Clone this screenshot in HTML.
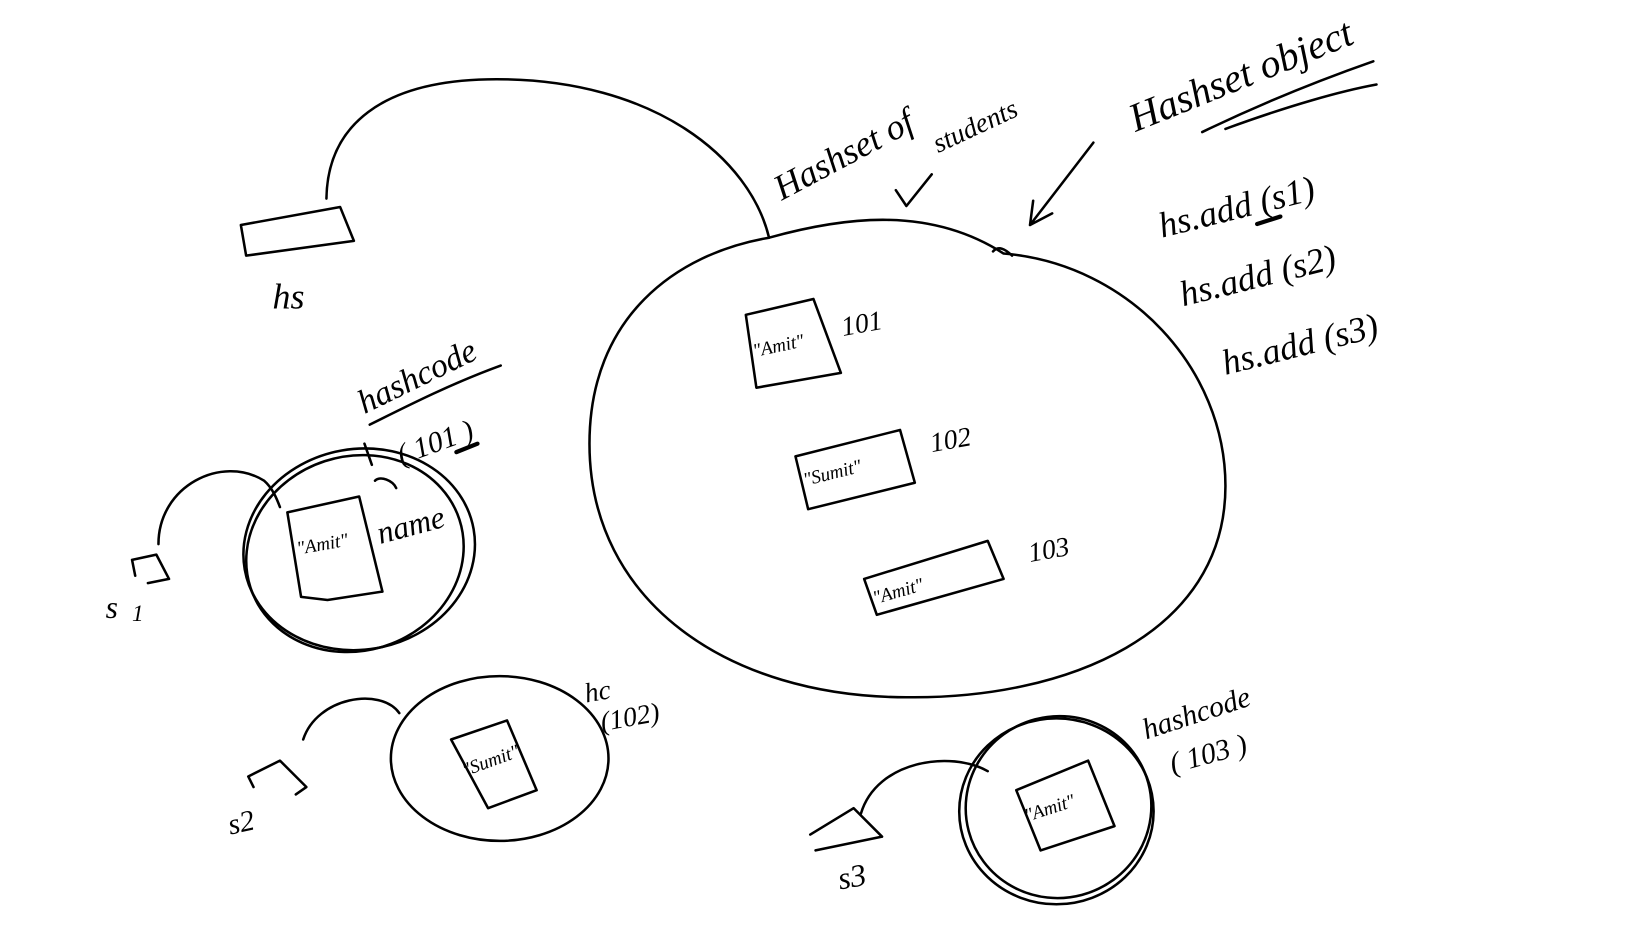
<!DOCTYPE html>
<html><head><meta charset="utf-8"><style>
html,body{margin:0;padding:0;background:#fff;width:1648px;height:927px;overflow:hidden}
svg text{font-family:"Liberation Serif",serif;font-style:italic;fill:#000}
</style></head><body>
<svg width="1648" height="927" viewBox="0 0 1560 877.5" xmlns="http://www.w3.org/2000/svg">
<g fill="none" stroke="#000" stroke-width="2.4" stroke-linecap="round" stroke-linejoin="round">
<path d="M228,213 L322,196 L335,228 L233,242 Z"/>
<path d="M309,188 C310,120 360,75 470,75 C620,75 710,150 728,225"/>
<path d="M728,225 C800,205 880,195 950,240 C1070,250 1160,350 1160,460 C1160,600 1010,662 858,660 C690,660 558,570 558,420 C558,300 640,240 728,225"/>
<path d="M940,238 C945,232 952,236 958,242"/>
<path d="M882,165 L858,195 L848,180"/>
<path d="M1035,135 L975,213 M975,213 L978,190 M975,213 L996,202"/>
<path d="M1138,125 C1200,95 1260,72 1300,58"/>
<path d="M1160,122 C1220,100 1270,86 1303,80"/>
<path d="M1190,212 L1212,205" stroke-width="4"/>
<path d="M706,298 L770,283 L796,353 L716,367 Z"/>
<path d="M753,432 L852,407 L866,457 L765,482 Z"/>
<path d="M818,548 L935,512 L950,548 L830,582 Z"/>
<ellipse cx="340" cy="520" rx="110" ry="95" transform="rotate(-10 340 520)"/>
<ellipse cx="336" cy="524" rx="104" ry="92" transform="rotate(-18 336 524)"/>
<path d="M272,485 L340,470 L362,560 L310,568 L285,565 Z"/>
<path d="M125,530 L148,525 L160,548 L140,552 M125,530 L128,545"/>
<path d="M150,515 C150,460 210,430 250,455 C258,462 262,472 265,480"/>
<path d="M345,420 L352,440 M355,455 C360,450 372,455 375,462"/>
<path d="M350,402 C390,382 430,362 474,346"/>
<path d="M432,428 L452,420" stroke-width="4"/>
<ellipse cx="473" cy="718" rx="103" ry="78"/>
<path d="M427,700 L480,682 L508,748 L462,765 Z"/>
<path d="M235,735 L265,720 L290,745 L280,752 M235,735 L240,745"/>
<path d="M287,700 C300,660 360,650 378,675"/>
<ellipse cx="1000" cy="768" rx="92" ry="88"/>
<ellipse cx="1002" cy="764" rx="88" ry="86" transform="rotate(-15 1002 764)"/>
<path d="M962,748 L1030,720 L1055,782 L985,805 Z"/>
<path d="M767,790 L808,765 L835,792 L772,805"/>
<path d="M815,770 C830,720 900,710 935,730"/>
</g>
<g>
<text x="258" y="292" font-size="34">hs</text>
<text x="740" y="190" font-size="34" transform="rotate(-28 740 190)">Hashset of</text>
<text x="888" y="145" font-size="26" transform="rotate(-25 888 145)">students</text>
<text x="1075" y="125" font-size="38" transform="rotate(-22 1075 125)">Hashset object</text>
<text x="1100" y="225" font-size="34" transform="rotate(-14 1100 225)">hs.add (s1)</text>
<text x="1120" y="290" font-size="34" transform="rotate(-14 1120 290)">hs.add (s2)</text>
<text x="1160" y="355" font-size="34" transform="rotate(-14 1160 355)">hs.add (s3)</text>
<text x="714" y="338" font-size="18" transform="rotate(-12 714 338)">"Amit"</text>
<text x="798" y="318" font-size="26" transform="rotate(-10 798 318)">101</text>
<text x="762" y="460" font-size="18" transform="rotate(-14 762 460)">"Sumit"</text>
<text x="882" y="428" font-size="26" transform="rotate(-10 882 428)">102</text>
<text x="828" y="572" font-size="18" transform="rotate(-16 828 572)">"Amit"</text>
<text x="975" y="532" font-size="26" transform="rotate(-10 975 532)">103</text>
<text x="345" y="392" font-size="32" transform="rotate(-26 345 392)">hashcode</text>
<text x="380" y="440" font-size="28" transform="rotate(-20 380 440)">( 101 )</text>
<text x="282" y="525" font-size="18" transform="rotate(-10 282 525)">"Amit"</text>
<text x="360" y="515" font-size="30" transform="rotate(-15 360 515)">name</text>
<text x="100" y="585" font-size="30">s</text><text x="125" y="588" font-size="22">1</text>
<text x="555" y="665" font-size="26" transform="rotate(-10 555 665)">hc</text>
<text x="570" y="692" font-size="26" transform="rotate(-10 570 692)">(102)</text>
<text x="440" y="735" font-size="18" transform="rotate(-20 440 735)">"Sumit"</text>
<text x="218" y="790" font-size="28" transform="rotate(-12 218 790)">s2</text>
<text x="1085" y="700" font-size="28" transform="rotate(-18 1085 700)">hashcode</text>
<text x="1110" y="732" font-size="28" transform="rotate(-15 1110 732)">( 103 )</text>
<text x="972" y="778" font-size="18" transform="rotate(-18 972 778)">"Amit"</text>
<text x="795" y="842" font-size="30" transform="rotate(-10 795 842)">s3</text>
</g>
</svg>
</body></html>
